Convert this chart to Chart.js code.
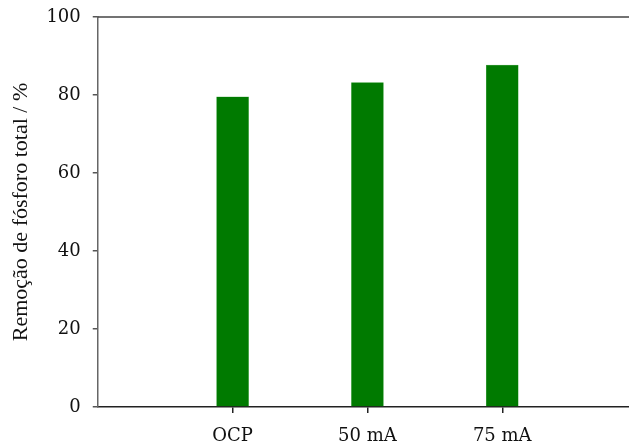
<!DOCTYPE html>
<html>
<head>
<meta charset="utf-8">
<script src="https://cdn.jsdelivr.net/npm/chart.js@4.4.0/dist/chart.umd.min.js"></script>
<style>
  html, body { margin: 0; padding: 0; background: #fff; }
  #wrap { width: 629px; height: 445px; }
</style>
</head>
<body>
<div id="wrap"><canvas id="removalChart"></canvas></div>
<script>
const categories = ['OCP', '50 mA', '75 mA'];
const positions = [1, 2, 3];
const removal = [79.5, 83.2, 87.7];
const yTicks = [0, 20, 40, 60, 80, 100];

const tickFont = { family: 'DejaVu Serif', size: 18 };
const titleFont = { family: 'Liberation Serif', size: 22 };

// top frame line across the plot area
const topLine = {
  id: 'topLine',
  afterDraw(chart) {
    const { ctx, chartArea } = chart;
    ctx.save();
    ctx.strokeStyle = '#444';
    ctx.lineWidth = 1.5;
    ctx.beginPath();
    ctx.moveTo(chartArea.left, chartArea.top);
    ctx.lineTo(chart.width, chartArea.top);
    ctx.stroke();
    ctx.restore();
  }
};

const ctx = document.getElementById('removalChart').getContext('2d');
new Chart(ctx, {
  type: 'bar',
  data: {
    datasets: [{
      data: positions.map((x, i) => ({ x: x, y: removal[i] })),
      backgroundColor: '#007a00',
      borderColor: '#5fb35f',
      borderWidth: 0.5,
      barThickness: 32
    }]
  },
  options: {
    responsive: true,
    maintainAspectRatio: false,
    animation: false,
    layout: { padding: { top: 17, right: 0, left: 8, bottom: 0 } },
    plugins: { legend: { display: false }, tooltip: { enabled: false } },
    scales: {
      x: {
        type: 'linear',
        offset: false,
        min: 0,
        max: 3.94,
        afterBuildTicks: axis => { axis.ticks = positions.map(v => ({ value: v })); },
        afterFit: axis => { axis.height = 38; axis.paddingLeft = 0; axis.paddingRight = 0; },
        grid: { display: true, offset: false, drawOnChartArea: false, drawTicks: true, tickLength: 6, color: '#222', lineWidth: 1.5 },
        border: { display: true, color: '#222', width: 1.5 },
        ticks: {
          color: '#111',
          padding: 13,
          font: tickFont,
          callback: v => categories[positions.indexOf(v)] || ''
        }
      },
      y: {
        min: 0,
        max: 100,
        afterBuildTicks: axis => { axis.ticks = yTicks.map(v => ({ value: v })); },
        afterFit: axis => { axis.paddingTop = 0; axis.paddingBottom = 0; },
        grid: { drawOnChartArea: false, drawTicks: true, tickLength: 5, color: '#555', lineWidth: 1.5 },
        border: { display: true, color: '#666', width: 1.5 },
        ticks: {
          color: '#111',
          padding: 12,
          font: tickFont
        },
        title: {
          display: true,
          text: 'Remoção de fósforo total / %',
          color: '#111',
          padding: { top: 0, bottom: 0 },
          font: titleFont
        }
      }
    }
  },
  plugins: [topLine]
});
</script>
</body>
</html>
